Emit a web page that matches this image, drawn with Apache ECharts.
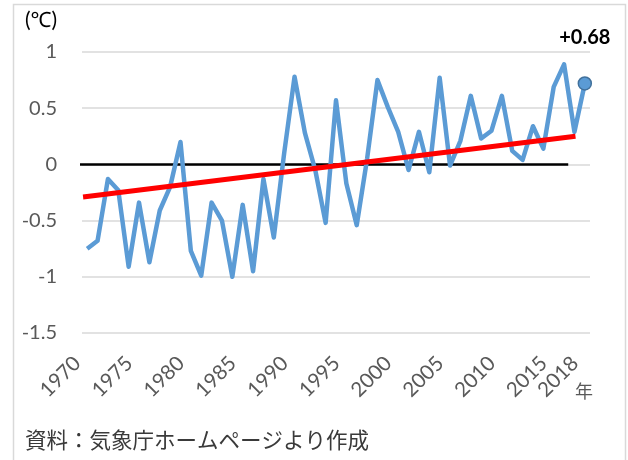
<!DOCTYPE html>
<html><head><meta charset="utf-8">
<script src="https://cdn.jsdelivr.net/npm/echarts@6/dist/echarts.min.js"></script>
<style>html,body{margin:0;padding:0;background:#fff}#c{width:628px;height:460px}</style>
</head><body><div id="c"></div>
<script>
const years = ['1970','1971','1972','1973','1974','1975','1976','1977','1978','1979',
  '1980','1981','1982','1983','1984','1985','1986','1987','1988','1989',
  '1990','1991','1992','1993','1994','1995','1996','1997','1998','1999',
  '2000','2001','2002','2003','2004','2005','2006','2007','2008','2009',
  '2010','2011','2012','2013','2014','2015','2016','2017','2018'];
const anomalies = [-0.75,-0.68,-0.13,-0.23,-0.91,-0.34,-0.87,-0.41,-0.20,0.20,
  -0.77,-0.99,-0.34,-0.50,-1.00,-0.36,-0.95,-0.13,-0.65,0.10,
  0.78,0.28,-0.05,-0.52,0.57,-0.17,-0.54,0.05,0.75,0.51,
  0.29,-0.05,0.29,-0.07,0.77,-0.01,0.21,0.61,0.23,0.30,
  0.61,0.12,0.04,0.34,0.14,0.69,0.89,0.29,0.72];
const shownYears = ['1970','1975','1980','1985','1990','1995','2000','2005','2010','2015','2018'];
const trendYears = [1969.6, 2017.1];
const trendValues = [-0.29, 0.25];
const baselineYears = [1968.3, 2016.4];
const baselineValues = [0, 0];
const lastLabel = '+0.68';
const unitLabel = '(℃)';
const yearUnit = '年';
const sourceNote = '資料：気象庁ホームページより作成';

const txt = '#595959';
const fnt = 'Lato, "Noto Sans", sans-serif';
const cjk = '"Noto Sans CJK JP", sans-serif';

const mainData = anomalies.map((v, i) => {
  if (i === anomalies.length - 1) {
    return {
      value: v, symbol: 'circle', symbolSize: 13,
      itemStyle: {color: '#5b9bd5', borderColor: '#41719c', borderWidth: 1.5},
      label: {show: true, position: 'top', distance: 27, formatter: lastLabel,
        fontSize: 20, fontWeight: 'bold', color: '#000', fontFamily: fnt,
        backgroundColor: '#fff', padding: [2, 1, 2, 1]}
    };
  }
  return v;
});

const chart = echarts.init(document.getElementById('c'), null, {renderer: 'canvas'});
chart.setOption({
  animation: false,
  backgroundColor: '#fff',
  grid: {left: 82, right: 38, top: 52, bottom: 127, containLabel: false},
  xAxis: [{
    type: 'category', data: years, boundaryGap: true,
    axisLine: {show: false}, axisTick: {show: false},
    axisLabel: {
      interval: (i, v) => shownYears.indexOf(v) >= 0,
      rotate: 45, margin: 17, padding: [0, 14, 0, 0], fontSize: 20.5, color: txt, fontFamily: fnt
    },
    splitLine: {show: false}
  }, {
    type: 'value', min: 1969.5, max: 2018.5, show: false
  }],
  yAxis: {
    type: 'value', min: -1.5, max: 1, interval: 0.5,
    axisLine: {show: false}, axisTick: {show: false},
    axisLabel: {margin: 25, fontSize: 20, color: txt, fontFamily: fnt},
    splitLine: {lineStyle: {color: '#d9d9d9', width: 1.5}}
  },
  graphic: [
    {type: 'rect', shape: {x: 13.5, y: 4.5, width: 612, height: 480}, style: {fill: 'none', stroke: '#d9d9d9', lineWidth: 1.5}, z: -1},
    {type: 'text', left: 25, top: 10, style: {text: unitLabel, fontSize: 21, fill: '#000', fontFamily: fnt}},
    {type: 'text', left: 575, top: 382, style: {text: yearUnit, fontSize: 18, fill: txt, fontFamily: cjk}},
    {type: 'text', left: 25, top: 429, style: {text: sourceNote, fontSize: 21.5, fill: '#3a3a3a', fontFamily: cjk}}
  ],
  series: [{
    type: 'line', xAxisIndex: 1, data: baselineYears.map((y, i) => [y, baselineValues[i]]),
    symbol: 'none', lineStyle: {color: '#000', width: 2.5}, z: 1, silent: true
  }, {
    type: 'line', xAxisIndex: 0, data: mainData, symbol: 'none', showSymbol: true,
    lineStyle: {color: '#5b9bd5', width: 4.5, join: 'round'}, itemStyle: {color: '#5b9bd5'}, z: 2
  }, {
    type: 'line', xAxisIndex: 1, data: trendYears.map((y, i) => [y, trendValues[i]]),
    symbol: 'none', lineStyle: {color: '#ff0000', width: 5}, z: 3, silent: true
  }]
});
</script></body></html>
